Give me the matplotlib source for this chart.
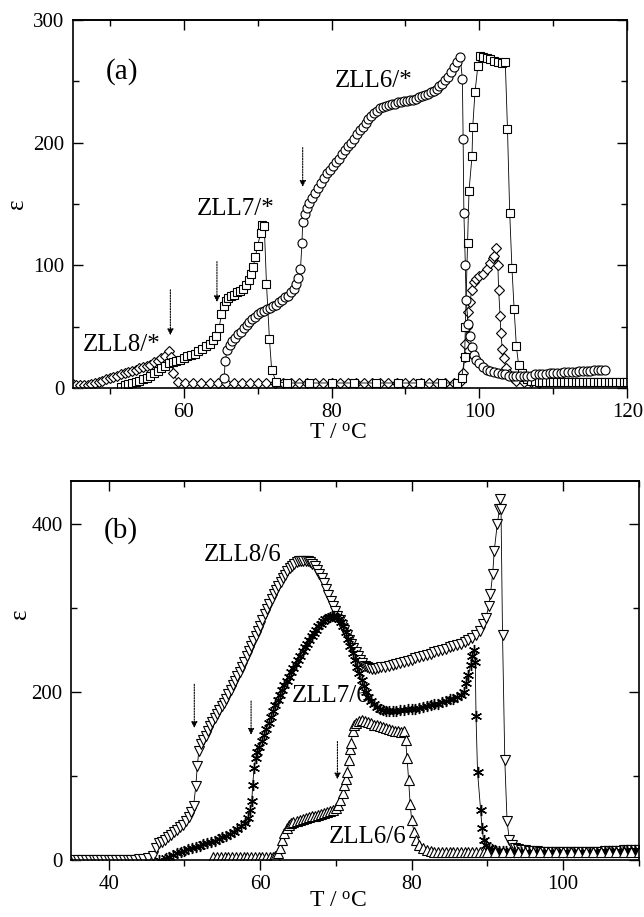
import matplotlib
matplotlib.use("Agg")
import matplotlib.pyplot as plt
from matplotlib.ticker import MultipleLocator

plt.rcParams['font.family'] = ['Liberation Serif', 'DejaVu Serif']
plt.rcParams['mathtext.fontset'] = 'custom'
plt.rcParams['mathtext.rm'] = 'Liberation Serif'
plt.rcParams['mathtext.it'] = 'Liberation Serif:italic'

# ---------------- Panel (a) data ----------------
# ZLL8/* (diamonds)
T8a = [45.0, 45.5, 46.0, 46.5, 47.0, 47.5, 48.0, 48.5, 49.0, 49.5, 50.0, 50.5, 51.0, 51.5,
       52.0, 52.5, 53.0, 53.5, 54.0, 54.5, 55.0, 55.5, 56.0, 56.5, 57.0, 57.5, 58.0, 58.3,
       58.6, 59.2, 60.2, 61.3, 62.4, 63.5, 64.6, 65.7, 66.8, 67.9, 69.0, 70.1, 71.2, 72.3,
       73.4, 74.5, 75.6, 76.7, 77.8, 78.9, 80.0, 81.1, 82.2, 83.3, 84.4, 85.5, 86.6, 87.7,
       88.8, 89.9, 91.0, 92.1, 93.2, 94.3, 95.4, 96.5, 97.5, 97.8, 98.0, 98.1, 98.3, 98.5,
       98.7, 99.0, 99.3, 99.6, 100.0, 100.5, 101.0, 101.5, 101.8, 102.0, 102.3, 102.5, 102.6,
       102.8, 102.9, 103.1, 103.3, 103.6, 104.0, 104.5, 105.0, 106.0, 107.0, 108.0]
E8a = [3, 2, 2, 2, 2, 3, 4, 5, 6, 7, 8, 9, 10, 11,
       12, 13, 14, 15, 16, 17, 18, 19, 21, 22, 24, 26, 30, 25,
       12, 5, 4, 4, 4, 4, 4, 4, 4, 4, 4, 4, 4, 4,
       4, 4, 4, 4, 4, 4, 4, 4, 4, 4, 4, 4, 4, 4,
       4, 4, 4, 4, 4, 4, 4, 4, 6, 12, 25, 36, 50, 62,
       70, 80, 86, 89, 91, 93, 97, 102, 106, 108, 114, 100, 80,
       59, 45, 32, 24, 16, 11, 8, 6, 5, 5, 4]

# ZLL7/* (squares)
T7a = [51.5, 52.0, 52.5, 53.0, 53.5, 54.0, 54.5, 55.0, 55.5, 56.0, 56.5, 57.0, 57.5, 58.0,
       58.5, 59.0, 59.5, 60.0, 60.5, 61.0, 61.5, 62.0, 62.5, 63.0, 63.5, 64.0, 64.4, 64.8,
       65.1, 65.4, 65.7, 66.0, 66.4, 66.8, 67.2, 67.6, 68.0, 68.4, 68.8, 69.1, 69.4, 69.7,
       70.0, 70.4, 70.6, 70.9, 71.2, 71.6, 71.9, 72.5, 74.0, 77.0, 80.0, 83.0, 86.0, 89.0,
       92.0, 95.0, 97.0, 97.6, 98.0, 98.1, 98.4, 98.6, 99.0, 99.1, 99.4, 99.8, 100.1, 100.5,
       101.0, 101.5, 102.0, 102.5, 103.0, 103.5, 103.8, 104.1, 104.4, 104.7, 105.0, 105.3,
       105.7, 106.0, 106.5, 107.0, 107.5, 108.0, 108.5, 109.0, 109.5, 110.0, 110.5, 111.0,
       111.5, 112.0, 112.5, 113.0, 113.5, 114.0, 114.5, 115.0, 115.5, 116.0, 116.5, 117.0,
       117.5, 118.0, 118.5, 119.0, 119.5, 120.0]
E7a = [1, 2, 3, 4, 5, 6, 7, 8, 10, 12, 14, 16, 18, 20,
       21, 22, 23, 24, 26, 27, 28, 30, 32, 34, 36, 39, 42, 49,
       60, 67, 71, 73, 75, 76, 78, 79, 81, 84, 88, 93, 99, 107,
       116, 126, 133, 132, 85, 40, 15, 5, 4, 4, 4, 4, 4, 4,
       4, 4, 4, 8, 25, 50, 118, 161, 189, 213, 241, 263, 271, 270,
       269, 268, 267, 266, 265, 266, 211, 143, 98, 64, 34, 19,
       12, 9, 7, 6, 6, 5, 5, 5, 5, 5, 5, 5,
       5, 5, 5, 5, 5, 5, 5, 5, 5, 5, 5, 5,
       5, 5, 5, 5, 5, 5]

# ZLL6/* (circles)
T6a = [65.5, 65.6, 65.9, 66.2, 66.5, 66.9, 67.3, 67.7, 68.1, 68.5, 68.9, 69.3, 69.7, 70.1,
       70.5, 70.9, 71.3, 71.7, 72.1, 72.5, 72.9, 73.3, 73.7, 74.1, 74.5, 74.9, 75.2, 75.5,
       75.8, 76.0, 76.1, 76.4, 76.7, 77.0, 77.4, 77.8, 78.2, 78.6, 79.0, 79.4, 79.8, 80.2,
       80.6, 81.0, 81.4, 81.8, 82.2, 82.6, 83.0, 83.4, 83.8, 84.2, 84.6, 85.0, 85.4, 85.8,
       86.2, 86.6, 87.0, 87.4, 87.8, 88.2, 88.6, 89.0, 89.4, 89.8, 90.2, 90.6, 91.0, 91.4,
       91.8, 92.2, 92.6, 93.0, 93.4, 93.8, 94.2, 94.6, 95.0, 95.4, 95.8, 96.2, 96.6, 97.0,
       97.4, 97.7, 97.8, 97.9, 98.1, 98.2, 98.5, 98.7, 99.0, 99.3, 99.6, 100.0, 100.5, 101.0,
       101.5, 102.0, 102.5, 103.0, 103.5, 104.0, 104.5, 105.0, 105.5, 106.0, 106.5, 107.0,
       107.5, 108.0, 108.5, 109.0, 109.5, 110.0, 110.5, 111.0, 111.5, 112.0, 112.5, 113.0,
       113.5, 114.0, 114.5, 115.0, 115.5, 116.0, 116.5, 117.0]
E6a = [8, 22, 31, 35, 38, 41, 44, 46, 49, 51, 54, 56, 58, 60,
       62, 63, 64, 65, 67, 68, 70, 72, 74, 75, 78, 81, 85, 90,
       97, 118, 135, 142, 147, 151, 155, 159, 163, 167, 171, 175, 178, 181,
       184, 187, 191, 194, 197, 200, 203, 207, 210, 213, 216, 219, 222, 224,
       226, 228, 229, 230, 231, 232, 232, 233, 233, 234, 234, 235, 235, 236,
       237, 238, 239, 240, 241, 242, 244, 246, 248, 251, 254, 258, 262, 266,
       270, 252, 203, 143, 100, 72, 52, 42, 33, 27, 23, 20, 17, 15,
       14, 13, 12, 11, 11, 10, 10, 10, 10, 10, 10, 10,
       11, 11, 11, 11, 12, 12, 12, 12, 13, 13, 13, 13,
       14, 14, 14, 14, 15, 15, 15, 15]

# ---------------- Panel (b) data ----------------
# ZLL8/6 (down triangles)
T8b = [35.5, 36.0, 36.5, 37.0, 37.5, 38.0, 38.5, 39.0, 39.5, 40.0, 40.5, 41.0, 41.5, 42.0,
       42.5, 43.0, 43.5, 44.0, 44.5, 45.2, 45.8, 46.3, 46.6,
       47.0, 47.4, 47.8, 48.2, 48.6, 49.0, 49.4, 49.8, 50.2, 50.6, 50.9, 51.2, 51.5, 51.7,
       51.9, 52.2, 52.5, 52.8, 53.1, 53.4, 53.7, 54.0, 54.3, 54.6, 54.9, 55.2, 55.5, 55.8,
       56.1, 56.4, 56.7, 57.0, 57.3, 57.6, 57.9, 58.2, 58.5, 58.8, 59.1, 59.4, 59.7, 60.0,
       60.3, 60.6, 60.9, 61.2, 61.5, 61.8, 62.1, 62.4, 62.7, 63.0, 63.3, 63.6, 63.9, 64.2,
       64.5, 64.8, 65.1, 65.4, 65.7, 66.0, 66.3, 66.6, 66.9, 67.2, 67.5, 67.8, 68.1, 68.4,
       68.7, 69.0, 69.3, 69.6, 69.9, 70.2, 70.5, 70.8, 71.1, 71.4, 71.7, 72.0, 72.3, 72.6,
       72.9, 73.2, 73.5, 73.8, 74.1, 74.4, 74.8, 75.2, 75.6, 76.0, 76.5, 77.0, 77.5, 78.0,
       78.5, 79.0, 79.5, 80.0, 80.5, 81.0, 81.5, 82.0, 82.5, 83.0, 83.5, 84.0, 84.5, 85.0,
       85.5, 86.0, 86.5, 87.0, 87.5, 88.0, 88.5, 89.0, 89.4, 89.8, 90.2, 90.4, 90.7, 90.9,
       91.3, 91.6, 91.7, 91.8, 92.0, 92.3, 92.6, 92.9, 93.3, 93.7, 94.1, 94.5, 95.0, 95.5,
       96.0, 96.5, 97.0, 97.5, 98.0, 98.5, 99.0, 99.5, 100.0, 100.5, 101.0, 101.5, 102.0,
       102.5, 103.0, 103.5, 104.0, 104.5, 105.0, 105.5, 106.0, 106.5, 107.0, 107.5, 108.0,
       108.5, 109.0, 109.5, 110.0]
E8b = [0, 0, 0, 0, 0, 0, 0, 0, 0, 0, 0, 0, 0, 0,
       0, 0, 0, 1, 1, 2, 5, 14, 20,
       22, 24, 27, 30, 33, 36, 39, 42, 46, 51, 57, 64, 88, 112,
       130, 138, 143, 148, 154, 159, 164, 169, 174, 178, 183, 187, 192, 197,
       202, 208, 213, 219, 224, 230, 236, 242, 248, 254, 260, 266, 272, 278,
       285, 292, 298, 304, 310, 316, 321, 326, 331, 335, 339, 343, 347, 350,
       352, 354, 355, 356, 356, 356, 355, 354, 352, 349, 345, 340, 335, 329,
       322, 315, 308, 302, 296, 290, 285, 279, 274, 268, 262, 257, 252, 247,
       242, 238, 234, 231, 229, 228, 227, 227, 228, 229, 230, 231, 232, 233,
       234, 236, 237, 238, 240, 241, 242, 244, 245, 247, 248, 250, 251, 253,
       254, 256, 257, 259, 261, 264, 267, 272, 280, 288, 302, 316, 340, 367,
       399, 417, 429, 417, 268, 119, 46, 24, 18, 15, 13, 12, 12, 11,
       11, 11, 10, 10, 10, 10, 10, 10, 10, 10, 10, 10, 10,
       10, 10, 10, 10, 10, 10, 11, 11, 11, 11, 11, 12,
       12, 12, 12, 12]

# ZLL7/6 (asterisks)
T7b = [46.7, 47.5, 48.0, 48.5, 49.0, 49.5, 50.0, 50.5, 51.0, 51.5, 52.0, 52.5, 53.0, 53.5,
       54.0, 54.5, 55.0, 55.5, 56.0, 56.5, 57.0, 57.5, 58.0, 58.4, 58.7, 58.9, 59.0, 59.2,
       59.4, 59.6, 59.9, 60.2, 60.5, 60.8, 61.1, 61.4, 61.7, 62.0, 62.3, 62.6, 62.9, 63.2,
       63.5, 63.8, 64.1, 64.4, 64.7, 65.0, 65.3, 65.6, 65.9, 66.2, 66.5, 66.8, 67.1, 67.4,
       67.7, 68.0, 68.3, 68.6, 68.9, 69.2, 69.5, 69.8, 70.1, 70.4, 70.7, 71.0, 71.3, 71.6,
       71.9, 72.2, 72.5, 72.8, 73.1, 73.4, 73.7, 74.0, 74.3, 74.6, 75.0, 75.4, 75.8, 76.2,
       76.6, 77.0, 77.5, 78.0, 78.5, 79.0, 79.5, 80.0, 80.5, 81.0, 81.5, 82.0, 82.5, 83.0,
       83.5, 84.0, 84.5, 85.0, 85.5, 86.0, 86.5, 86.9, 87.2, 87.5, 87.8, 88.0, 88.2, 88.4,
       88.5, 88.7, 89.1, 89.3, 89.5, 89.8, 90.2, 90.6, 91.0, 91.5, 92.0, 92.5, 93.0, 93.5,
       94.0, 94.5, 95.0, 95.5, 96.0, 96.5, 97.0, 97.5, 98.0, 98.5, 99.0, 99.5, 100.0, 100.5,
       101.0, 101.5, 102.0, 102.5, 103.0, 103.5, 104.0, 104.5, 105.0, 105.5, 106.0, 106.5,
       107.0, 107.5, 108.0, 108.5, 109.0, 109.5, 110.0]
E7b = [0, 2, 4, 6, 8, 10, 11, 13, 14, 16, 17, 19, 20, 22,
       23, 25, 27, 29, 31, 34, 37, 40, 44, 50, 60, 70, 89, 109,
       121, 128, 135, 142, 149, 156, 163, 170, 177, 184, 190, 196, 202, 208,
       213, 218, 223, 228, 233, 238, 243, 248, 253, 257, 262, 266, 270, 274,
       278, 281, 284, 286, 288, 289, 290, 290, 289, 287, 283, 278, 271, 263,
       255, 246, 238, 230, 222, 214, 207, 200, 194, 189, 185, 182, 180, 178,
       177, 177, 177, 177, 178, 178, 179, 179, 180, 181, 182, 183, 184, 185,
       186, 188, 189, 191, 192, 194, 196, 200, 210, 220, 232, 242, 250, 236,
       171, 105, 60, 38, 24, 18, 15, 13, 12, 11, 11, 11, 10, 10,
       10, 10, 10, 10, 10, 10, 10, 10, 10, 10, 10, 10, 10, 10,
       10, 10, 10, 10, 10, 10, 10, 10, 11, 11, 11, 11,
       11, 11, 11, 12, 12, 12, 12]

# ZLL6/6 (up triangles)
T6b = [53.8, 54.3, 54.8, 55.3, 55.8, 56.3, 56.8, 57.3, 57.8, 58.3, 58.8, 59.3, 59.8, 60.3,
       60.8, 61.3, 61.7, 62.0, 62.3, 62.6, 62.9, 63.2,
       63.5, 63.8, 64.1, 64.4, 64.8, 65.2, 65.6, 66.0, 66.4, 66.8, 67.2, 67.6, 68.0, 68.4,
       68.8, 69.2, 69.6, 70.0, 70.3, 70.6, 70.9, 71.1, 71.3, 71.5, 71.7, 71.9, 72.0, 72.2,
       72.4, 72.7, 73.0, 73.4, 73.8, 74.2, 74.6, 75.0, 75.4, 75.8, 76.2, 76.6, 77.0, 77.4,
       77.8, 78.2, 78.6, 79.0, 79.2, 79.4, 79.6, 79.8, 80.0, 80.3, 80.6, 81.0, 81.5, 82.0,
       82.5, 83.0, 83.5, 84.0, 84.5, 85.0, 85.5, 86.0, 86.5, 87.0, 87.5, 88.0, 88.5, 89.0,
       89.5, 90.0, 91.0, 92.0, 93.0, 94.0, 95.0,
       96.0, 97.0, 98.0, 99.0, 100.0, 101.0, 102.0, 103.0, 104.0, 105.0, 106.0, 107.0,
       108.0, 109.0, 110.0]
E6b = [4, 4, 4, 4, 4, 4, 4, 4, 4, 4, 4, 4, 4, 4,
       4, 4, 4, 5, 8, 14, 24, 32,
       38, 42, 44, 45, 46, 48, 49, 50, 51, 52, 53, 54, 55, 56,
       57, 58, 60, 62, 66, 72, 80, 89, 97, 105, 119, 132, 139, 153,
       160, 163, 165, 166, 165, 164, 163, 161, 160, 159, 158, 157, 156, 155,
       154, 153, 152, 153, 143, 121, 95, 67, 48, 34, 24, 18, 14, 12,
       11, 10, 10, 10, 10, 10, 10, 10, 10, 10, 10, 10, 10, 10,
       10, 10, 10, 10, 10, 10, 10,
       10, 10, 10, 10, 10, 10, 10, 10, 10, 10, 10, 10,
       10, 10, 10]

# ---------------- annotations ----------------
arrows_a = [(58.2, 80, 43), (64.5, 103, 70), (76.1, 196, 164)]
arrows_b = [(51.3, 209, 157), (58.8, 189, 149), (70.2, 141, 96)]
labels_a = [("ZLL8/*", 46.3, 35), ("ZLL7/*", 61.8, 146), ("ZLL6/*", 80.5, 250)]
labels_b = [("ZLL8/6", 52.5, 362), ("ZLL7/6", 64.2, 195), ("ZLL6/6", 69.1, 27)]

ASTER = (6, 2, 0)


def style(marker, ms, mew=0.8):
    return dict(marker=marker, ms=ms, mfc='white', mec='black', mew=mew,
                color='black', lw=0.6, linestyle='-')


def arrow(ax, x, y0, y1):
    ax.annotate('', xy=(x, y1), xytext=(x, y0),
                arrowprops=dict(arrowstyle='-|>', linestyle=(0, (1.2, 1.2)), lw=0.8,
                                color='black', mutation_scale=9, shrinkA=0, shrinkB=0))


def frame(ax, xlim, ylim, xmaj, xmin, ymaj, ymin):
    ax.set_xlim(*xlim)
    ax.set_ylim(*ylim)
    ax.xaxis.set_major_locator(MultipleLocator(xmaj))
    ax.xaxis.set_minor_locator(MultipleLocator(xmin))
    ax.yaxis.set_major_locator(MultipleLocator(ymaj))
    ax.yaxis.set_minor_locator(MultipleLocator(ymin))
    ax.tick_params(axis='x', which='both', direction='out', top=False, labelsize=15, pad=4)
    ax.tick_params(axis='y', which='both', direction='in', right=True, labelsize=15, pad=6)
    ax.tick_params(which='major', length=7, width=1.0)
    ax.tick_params(which='minor', length=4, width=1.0)
    top = ax.secondary_xaxis('top')
    top.xaxis.set_major_locator(MultipleLocator(xmaj))
    top.xaxis.set_minor_locator(MultipleLocator(xmin))
    top.tick_params(which='both', direction='in', labeltop=False, width=1.0)
    top.tick_params(which='major', length=7)
    top.tick_params(which='minor', length=4)
    for s in ax.spines.values():
        s.set_linewidth(1.2)
    top.spines['top'].set_linewidth(1.2)


def labels(ax, xpos, ypos):
    ax.set_xlabel(r"T / $^{\mathrm{o}}$C", fontsize=17, va='center')
    ax.xaxis.set_label_coords(*xpos)
    ax.set_ylabel("ε", fontsize=18, va='center')
    ax.yaxis.set_label_coords(*ypos)


fig = plt.figure(figsize=(6.44, 9.17), dpi=100)

# Panel (a)
axa = fig.add_axes([0.113, 0.577, 0.861, 0.401])
axa.plot(T8a, E8a, **style('D', 5.5))
axa.plot(T7a, E7a, **style('s', 6.0))
axa.plot(T6a, E6a, **style('o', 6.5))
frame(axa, (45, 120), (0, 300), 20, 10, 100, 50)
axa.set_xticks([60, 80, 100, 120])
for x, y0, y1 in arrows_a:
    arrow(axa, x, y0, y1)
for txt, x, y in labels_a:
    axa.text(x, y, txt, fontsize=18, ha='left', va='center')
axa.text(49.5, 258, "(a)", fontsize=21, ha='left', va='center')
labels(axa, (0.478, -0.122), (-0.10, 0.50))

# Panel (b)
axb = fig.add_axes([0.110, 0.062, 0.882, 0.413])
axb.plot(T8b, E8b, **style('v', 7.5))
axb.plot(T7b, E7b, **style(ASTER, 8.0, 1.0))
axb.plot(T6b, E6b, **style('^', 7.5))
frame(axb, (35, 110), (0, 450), 20, 10, 200, 100)
axb.set_xticks([40, 60, 80, 100])
for x, y0, y1 in arrows_b:
    arrow(axb, x, y0, y1)
for txt, x, y in labels_b:
    axb.text(x, y, txt, fontsize=18, ha='left', va='center')
axb.text(39.3, 392, "(b)", fontsize=21, ha='left', va='center')
labels(axb, (0.47, -0.108), (-0.09, 0.65))

fig.savefig("out.png", dpi=100)
